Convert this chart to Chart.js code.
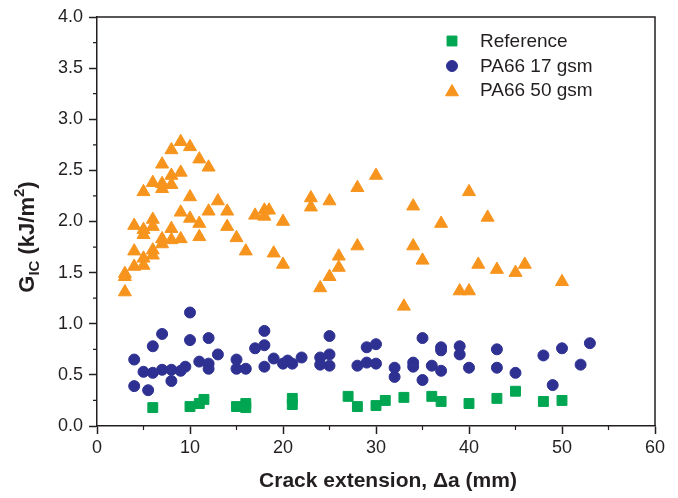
<!DOCTYPE html>
<html>
<head>
<meta charset="utf-8">
<script src="https://cdn.jsdelivr.net/npm/chart.js@4.4.1/dist/chart.umd.min.js"></script>
<style>
  html, body { margin: 0; padding: 0; background: #fff; }
  #c { display: block; }
</style>
</head>
<body>
<canvas id="c" width="678" height="498"></canvas>
<script>
// 数据：裂纹扩展量 (mm) 与 G_IC (kJ/m²)
const refX = [6, 10, 11, 11.5, 15, 16, 16, 21, 21, 27, 28, 30, 31, 33, 36, 37, 40, 43, 45, 48, 50];
const refY = [0.18, 0.19, 0.22, 0.26, 0.19, 0.22, 0.18, 0.27, 0.21, 0.29, 0.19, 0.20, 0.25, 0.28, 0.29, 0.24, 0.22, 0.27, 0.34, 0.24, 0.25];

const pa17X = [10, 7, 10, 12, 6, 18, 18, 17, 4, 13, 19, 15, 11, 12, 9.5, 20, 20.5, 21, 18, 5, 6, 7, 8, 9, 8, 12, 15, 16, 4, 5.5,
  25, 25, 24, 24, 25, 22, 28, 29, 30, 29, 30, 32, 32, 34, 34, 35, 36, 35, 37, 37, 37, 39, 39, 40, 43, 43, 45, 48, 50, 49, 52, 53];
const pa17Y = [1.11, 0.90, 0.84, 0.86, 0.78, 0.93, 0.79, 0.76, 0.65, 0.70, 0.66, 0.65, 0.63, 0.61, 0.58, 0.61, 0.64, 0.61, 0.58, 0.53, 0.52, 0.55, 0.55, 0.54, 0.44, 0.56, 0.56, 0.56, 0.39, 0.35,
  0.88, 0.70, 0.67, 0.60, 0.59, 0.67, 0.59, 0.77, 0.80, 0.62, 0.61, 0.57, 0.48, 0.62, 0.58, 0.86, 0.59, 0.45, 0.77, 0.74, 0.54, 0.78, 0.70, 0.57, 0.75, 0.57, 0.52, 0.69, 0.76, 0.40, 0.60, 0.81];

const pa50X = [9, 8, 10, 11, 12, 7, 8, 9, 6, 7, 8, 7, 5, 10, 13, 14, 9, 12, 10, 11, 17, 18, 18.5, 18, 20, 4, 6, 6, 5, 5,
  8, 14, 11, 15, 7, 8, 9, 7, 16, 4, 6, 6, 5, 5, 4, 19, 20, 3, 3, 3,
  30, 28, 23, 23, 25, 40, 34, 37, 42, 28, 34, 35, 26, 26, 25, 24, 33, 41, 43, 45, 46, 39, 40, 50];
const pa50Y = [2.78, 2.70, 2.73, 2.61, 2.53, 2.56, 2.45, 2.48, 2.38, 2.37, 2.36, 2.32, 2.29, 2.24, 2.20, 2.10, 2.09, 2.10, 2.03, 1.98, 2.06, 2.11, 2.11, 2.05, 2.00, 1.96, 2.02, 1.95, 1.92, 1.87,
  1.93, 1.95, 1.85, 1.84, 1.83, 1.82, 1.83, 1.78, 1.71, 1.71, 1.72, 1.67, 1.64, 1.57, 1.56, 1.69, 1.58, 1.49, 1.46, 1.31,
  2.45, 2.33, 2.23, 2.14, 2.20, 2.29, 2.15, 1.98, 2.04, 1.76, 1.76, 1.62, 1.66, 1.55, 1.46, 1.35, 1.17, 1.58, 1.53, 1.50, 1.58, 1.32, 1.32, 1.41];

const xTicks = [0, 10, 20, 30, 40, 50, 60];
const yTicks = [0, 0.5, 1, 1.5, 2, 2.5, 3, 3.5, 4];
const seriesNames = ['Reference', 'PA66 17 gsm', 'PA66 50 gsm'];

const INK = '#231f20';
const FONT = '"Liberation Sans", Arial, Helvetica, sans-serif';

function pts(xs, ys) {
  return xs.map((x, i) => ({ x: x, y: ys[i] }));
}

// 次刻度、上/右边框、坐标轴标题、图例
const framePlugin = {
  id: 'frame',
  afterDraw(chart) {
    const ctx = chart.ctx;
    const a = chart.chartArea;
    const xs = chart.scales.x, ys = chart.scales.y;
    ctx.save();
    ctx.strokeStyle = INK;
    ctx.lineWidth = 1.5;
    ctx.beginPath();
    ctx.moveTo(a.left, a.top);
    ctx.lineTo(a.right, a.top);
    ctx.lineTo(a.right, a.bottom);
    ctx.stroke();

    ctx.lineWidth = 1.2;
    ctx.beginPath();
    for (let v = 5; v < 60; v += 10) {
      const px = xs.getPixelForValue(v);
      ctx.moveTo(px, a.bottom);
      ctx.lineTo(px, a.bottom + 4);
    }
    for (let v = 0.25; v < 4; v += 0.5) {
      const py = ys.getPixelForValue(v);
      ctx.moveTo(a.left, py);
      ctx.lineTo(a.left - 4, py);
    }
    ctx.stroke();

    // x 轴标题
    ctx.fillStyle = INK;
    ctx.font = 'bold 21px ' + FONT;
    ctx.textAlign = 'center';
    ctx.textBaseline = 'middle';
    ctx.fillText('Crack extension, \u0394a (mm)', 388, 481);

    // y 轴标题 G_IC (kJ/m^2)
    const parts = [
      { t: 'G', size: 22, dy: 0 },
      { t: 'IC', size: 15, dy: 5 },
      { t: ' (kJ/m', size: 22, dy: 0 },
      { t: '2', size: 15, dy: -10 },
      { t: ')', size: 22, dy: 0 },
    ];
    let total = 0;
    parts.forEach(p => {
      ctx.font = 'bold ' + p.size + 'px ' + FONT;
      p.w = ctx.measureText(p.t).width;
      total += p.w;
    });
    ctx.translate(34, 237);
    ctx.rotate(-Math.PI / 2);
    ctx.textAlign = 'left';
    ctx.textBaseline = 'alphabetic';
    let cx = -total / 2;
    parts.forEach(p => {
      ctx.font = 'bold ' + p.size + 'px ' + FONT;
      ctx.fillText(p.t, cx, p.dy);
      cx += p.w;
    });
    ctx.setTransform(1, 0, 0, 1, 0, 0);

    // 图例
    const rows = [41, 66, 90];
    chart.data.datasets.forEach((ds, i) => {
      const opts = {
        pointStyle: ds.pointStyle,
        radius: ds.pointRadius,
        rotation: 0,
        borderWidth: 1,
      };
      ctx.fillStyle = ds.backgroundColor;
      ctx.strokeStyle = ds.borderColor;
      ctx.lineWidth = 1;
      const yOff = ds.pointStyle === 'triangle' ? 2 : 0;
      Chart.helpers.drawPoint(ctx, opts, 452, rows[i] + yOff);
      ctx.fillStyle = INK;
      ctx.font = '19px ' + FONT;
      ctx.textAlign = 'left';
      ctx.textBaseline = 'middle';
      ctx.fillText(seriesNames[i], 480, rows[i] + 1);
    });
    ctx.restore();
  }
};

new Chart(document.getElementById('c'), {
  type: 'scatter',
  data: {
    datasets: [
      {
        label: seriesNames[0],
        data: pts(refX, refY),
        pointStyle: 'rect',
        pointRadius: 7,
        backgroundColor: '#00a651',
        borderColor: '#00a651',
        borderWidth: 1,
      },
      {
        label: seriesNames[1],
        data: pts(pa17X, pa17Y),
        pointStyle: 'circle',
        pointRadius: 5.5,
        backgroundColor: '#2e3192',
        borderColor: '#2e3192',
        borderWidth: 1,
      },
      {
        label: seriesNames[2],
        data: pts(pa50X, pa50Y),
        pointStyle: 'triangle',
        pointRadius: 7.5,
        backgroundColor: '#f7941d',
        borderColor: '#f7941d',
        borderWidth: 1,
      },
    ],
  },
  options: {
    responsive: false,
    animation: false,
    layout: { padding: { top: 17, right: 23, bottom: 0, left: 0 } },
    plugins: {
      legend: { display: false },
      tooltip: { enabled: false },
    },
    scales: {
      x: {
        type: 'linear',
        position: 'bottom',
        min: 0,
        max: 60,
        afterFit: (s) => { s.height = 72; },
        afterBuildTicks: (s) => { s.ticks = xTicks.map(v => ({ value: v })); },
        grid: { display: true, drawOnChartArea: false, drawTicks: true, tickLength: 8, tickWidth: 1.5, tickColor: INK },
        border: { display: true, color: INK, width: 1.5 },
        ticks: {
          color: INK,
          padding: 3,
          maxRotation: 0,
          font: { family: FONT, size: 18 },
          callback: (v) => String(v),
        },
      },
      y: {
        type: 'linear',
        min: 0,
        max: 4,
        afterFit: (s) => { s.width = 97; },
        afterBuildTicks: (s) => { s.ticks = yTicks.map(v => ({ value: v })); },
        grid: { display: true, drawOnChartArea: false, drawTicks: true, tickLength: 8, tickWidth: 1.5, tickColor: INK },
        border: { display: true, color: INK, width: 1.5 },
        ticks: {
          color: INK,
          padding: 6,
          font: { family: FONT, size: 18 },
          callback: (v) => Number(v).toFixed(1),
        },
      },
    },
  },
  plugins: [framePlugin],
});
</script>
</body>
</html>
